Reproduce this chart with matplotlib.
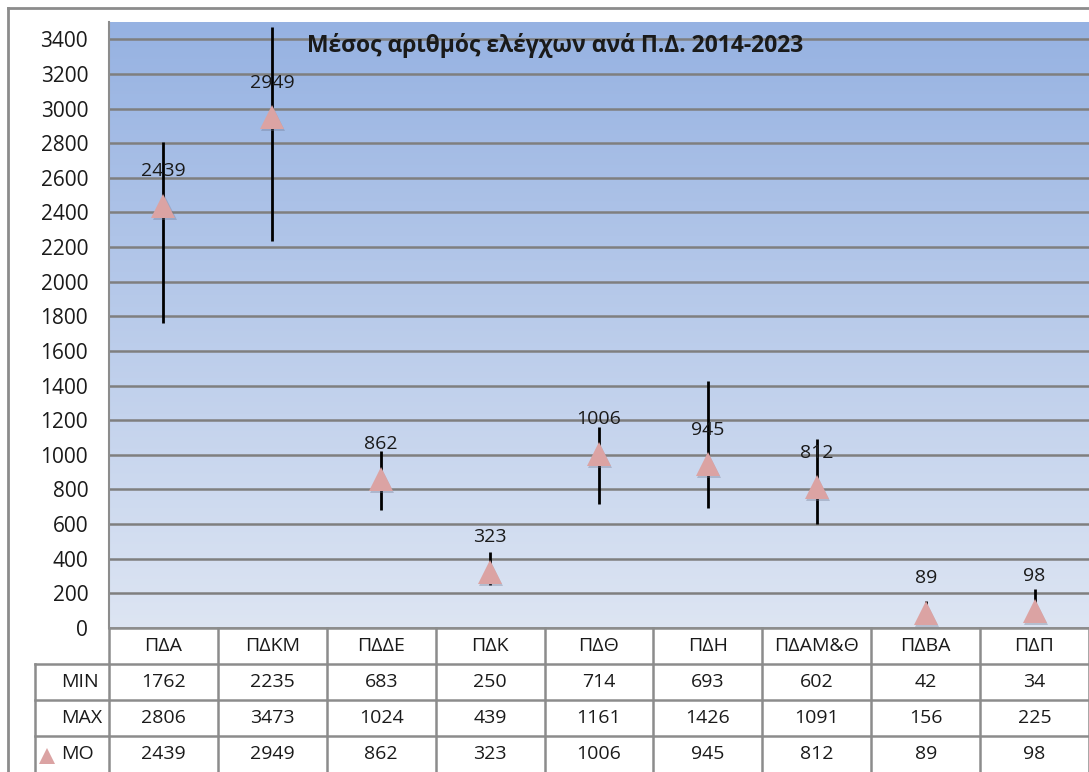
import numpy as np
import matplotlib.pyplot as plt
from matplotlib.lines import Line2D

plt.rcParams['font.family'] = ['Open Sans', 'DejaVu Sans']

# data
regions = ['ΠΔΑ', 'ΠΔΚΜ', 'ΠΔΔΕ', 'ΠΔΚ', 'ΠΔΘ', 'ΠΔΗ', 'ΠΔΑΜ&Θ', 'ΠΔΒΑ', 'ΠΔΠ']
min_vals = [1762, 2235, 683, 250, 714, 693, 602, 42, 34]
max_vals = [2806, 3473, 1024, 439, 1161, 1426, 1091, 156, 225]
mean_vals = [2439, 2949, 862, 323, 1006, 945, 812, 89, 98]
row_names = ['MIN', 'MAX', 'MO']
title = 'Μέσος αριθμός ελέγχων ανά Π.Δ. 2014-2023'

W, H = 1089, 772
fig = plt.figure(figsize=(W / 100, H / 100), dpi=100)
fig.patch.set_facecolor('white')

# outer chart border
fig.add_artist(Line2D([8 / W, 8 / W], [0, 1 - 7.5 / H], transform=fig.transFigure,
                      color='#8c8c8c', lw=2))
fig.add_artist(Line2D([8 / W, 1], [1 - 7.5 / H, 1 - 7.5 / H], transform=fig.transFigure,
                      color='#8c8c8c', lw=2))

px_l, px_r, px_t, px_b = 109, 1089, 22, 628
ax = fig.add_axes([px_l / W, 1 - px_b / H, (px_r - px_l) / W, (px_b - px_t) / H])
x = np.arange(len(regions))
ax.set_xlim(-0.5, len(regions) - 0.5)
ymax = 3500
ax.set_ylim(0, ymax)

# gradient background
top = np.array([150, 178, 226]) / 255
bot = np.array([221, 229, 243]) / 255
t = np.linspace(0, 1, 256)[:, None]
grad = (top * (1 - t) + bot * t)[:, None, :].repeat(2, axis=1)
ax.imshow(grad, extent=[-0.5, len(regions) - 0.5, 0, ymax], aspect='auto', zorder=0)

fs = 14
ax.set_yticks(np.arange(0, 3401, 200))
ax.set_xticks([])
ax.tick_params(axis='y', length=0, pad=15, labelsize=15)
for lab in ax.get_yticklabels():
    lab.set_color('#1a1a1a')
ax.grid(axis='y', color='#7f7f7f', lw=1.8, zorder=1)
for s in ax.spines.values():
    s.set_visible(False)
ax.spines['left'].set_visible(True)
ax.spines['left'].set_color('#8c8c8c')
ax.spines['left'].set_linewidth(1.5)

# min-max lines
ax.vlines(x, min_vals, max_vals, color='black', lw=2, zorder=3)
# marker shadow + markers
ax.plot(x + 0.01, np.array(mean_vals) - 12, linestyle='none', marker='^', markersize=17,
        color='#6f7790', alpha=0.35, markeredgewidth=0, zorder=4)
ax.plot(x, mean_vals, linestyle='none', marker='^', markersize=17,
        color='#dba3a3', markeredgewidth=0, zorder=5)
for xi, v in zip(x, mean_vals):
    ax.annotate(str(v), (xi, v), xytext=(0, 25), textcoords='offset points',
                ha='center', va='center', fontsize=fs, color='#1a1a1a', zorder=6)

ax.text(0.455, 0.962, title, transform=ax.transAxes, ha='center', va='center',
        fontsize=16.5, fontweight='bold', color='#1a1a1a')

# data table below the plot
unit = (px_r - px_l) / len(regions)
tab_l = 35
tx0 = -0.5 - (px_l - tab_l) / unit
tax = fig.add_axes([tab_l / W, 0, (W - tab_l) / W, (H - px_b) / H])
tax.set_xlim(tx0, len(regions) - 0.5)
tax.set_ylim(4, 0)
tax.axis('off')
lc = '#8c8c8c'
# horizontal lines
for r in [1, 2, 3]:
    tax.plot([tx0, len(regions) - 0.5], [r, r], color=lc, lw=1.8, clip_on=False)
tax.plot([-0.5, len(regions) - 0.5], [0, 0], color=lc, lw=1.8, clip_on=False)
# vertical lines
tax.plot([tx0, tx0], [1, 4], color=lc, lw=1.8, clip_on=False)
for b in np.arange(-0.5, len(regions), 1.0):
    tax.plot([b, b], [0, 4], color=lc, lw=1.8, clip_on=False)

for xi, name in zip(x, regions):
    tax.text(xi, 0.5, name, ha='center', va='center', fontsize=fs, color='#1a1a1a')
rows = [min_vals, max_vals, mean_vals]
lab_x = tx0 + 26 / unit
for ri, (rname, vals) in enumerate(zip(row_names, rows)):
    tax.text(lab_x, ri + 1.5, rname, ha='left', va='center', fontsize=fs, color='#1a1a1a')
    for xi, v in zip(x, vals):
        tax.text(xi, ri + 1.5, str(v), ha='center', va='center', fontsize=fs, color='#1a1a1a')
# legend key triangle in MO row
tax.plot([tx0 + 12 / unit], [3.55], marker='^', markersize=11, color='#dba3a3',
         markeredgewidth=0, clip_on=False)

fig.savefig('out.png', dpi=100)
